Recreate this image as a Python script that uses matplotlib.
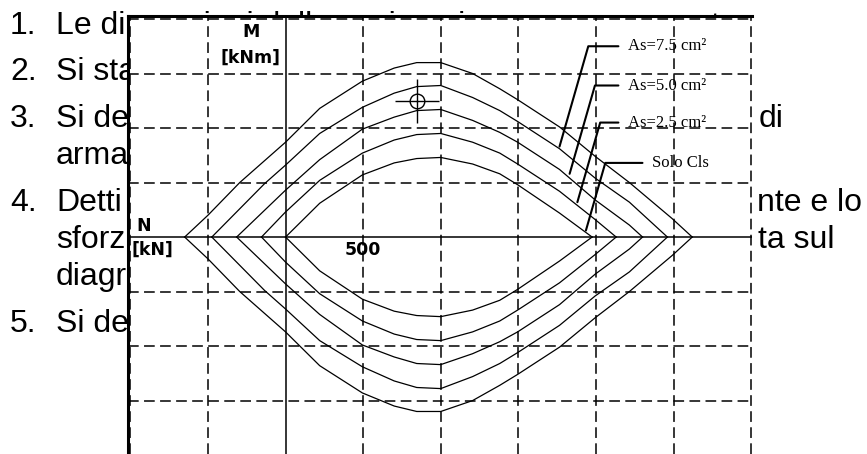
import matplotlib
matplotlib.use("Agg")
import matplotlib.pyplot as plt

# ---------------- data ----------------
# grid positions (N in kN, M in kNm)
N_grid = [-1000, -500, 500, 1000, 1500, 2000, 2500, 3000]
M_grid = [-150, -100, -50, 50, 100, 150, 200]

# interaction domains, upper and lower branches
N_c1 = [-650, -500, -295, 0, 220, 495, 700, 845, 1000, 1205, 1380, 1495, 1765, 1995, 2215, 2490, 2620]
M_c1_up = [0, 20, 50, 87, 118, 143, 155, 160, 160, 150, 136, 126, 101, 74, 50, 17, 0]
M_c1_lo = [0, -20, -50, -87, -118, -143, -155, -160, -160, -150, -136, -126, -101, -74, -50, -17, 0]

N_c2 = [-475, -135, 0, 220, 495, 700, 845, 1000, 1205, 1380, 1495, 1765, 1995, 2215, 2460]
M_c2_up = [0, 49, 66, 95, 119, 132, 138, 139, 128, 116, 106, 81, 54, 32, 0]
M_c2_lo = [0, -49, -66, -95, -119, -132, -138, -139, -128, -116, -106, -81, -54, -32, 0]

N_c3 = [-315, 0, 220, 495, 700, 845, 1000, 1205, 1380, 1495, 1765, 1995, 2215, 2300]
M_c3_up = [0, 43, 71, 99, 110, 116, 117, 107, 96, 87, 62, 34, 11, 0]
M_c3_lo = [0, -43, -71, -99, -110, -116, -117, -107, -96, -87, -62, -34, -11, 0]

N_c4 = [-155, 0, 220, 495, 700, 845, 1000, 1205, 1380, 1495, 1765, 1995, 2130]
M_c4_up = [0, 23, 52, 77, 89, 94, 95, 87, 77, 67, 42, 16, 0]
M_c4_lo = [0, -23, -52, -77, -89, -94, -95, -87, -77, -67, -42, -16, 0]

N_c5 = [0, 220, 495, 700, 845, 1000, 1205, 1380, 1495, 1765, 1975]
M_c5_up = [0, 31, 57, 68, 72, 73, 67, 58, 48, 22, 0]
M_c5_lo = [0, -31, -57, -68, -72, -73, -67, -58, -48, -22, 0]

# labelled curves (leader anchors on curves 2..5)
curve_labels = ["As=7.5 cm\u00b2", "As=5.0 cm\u00b2", "As=2.5 cm\u00b2", "Solo Cls"]
anchor_N = [1765, 1830, 1880, 1935]
anchor_M = [83, 58, 32, 6]
label_N = [2207, 2207, 2207, 2362]
label_M = [175, 139, 105, 68]

# design point (crosshair)
point_N = [850]
point_M = [125]

# slide text (visible parts; the chart covers the rest)
slide_nums = ["1.", "2.", "3.", "", "4.", "", "", "5."]
slide_text = ["Le dimensioni della sezione in esame sono note",
              "Si sta", "Si de", "arma", "Detti", "sforz", "diagr", "Si de"]
slide_base = [34, 80, 127, 164, 211, 248, 285, 332]
right_text = ["di", "nte e lo", "ta sul"]
right_x = [759, 757, 758]
right_base = [127, 211, 248]

# ---------------- figure ----------------
W, H = 867, 454
fig = plt.figure(figsize=(W / 100, H / 100), dpi=100)

bg = fig.add_axes([0, 0, 1, 1], zorder=0)
bg.set_xlim(0, W)
bg.set_ylim(H, 0)
bg.axis("off")
tf = dict(family="Liberation Sans", fontsize=23, color="black", va="baseline")
for num, txt, yb in zip(slide_nums, slide_text, slide_base):
    if num:
        bg.text(10, yb, num, ha="left", **tf)
    bg.text(56, yb, txt, ha="left", **tf)
for txt, xx, yb in zip(right_text, right_x, right_base):
    bg.text(xx, yb, txt, ha="left", **tf)

top_px = 16
ax = fig.add_axes([128 / W, 0, 624 / W, (H - top_px) / H], zorder=2)
ax.set_facecolor("white")
ax.set_xlim(-1015, 3005)
ax.set_ylim(-199, 202.75)
ax.set_xticks(N_grid)
ax.set_yticks(M_grid)
ax.tick_params(length=0, labelbottom=False, labelleft=False)
ax.grid(True, color="black", lw=1.1, linestyle=(0, (7, 3.5)))
for s in ["right", "bottom"]:
    ax.spines[s].set_visible(False)
ax.spines["left"].set_linewidth(2.2)
ax.spines["top"].set_linewidth(2.2)

ax.axhline(0, color="black", lw=1.1, zorder=2)
ax.axvline(0, color="black", lw=1.1, zorder=2)

curves = [(N_c1, M_c1_up, M_c1_lo), (N_c2, M_c2_up, M_c2_lo), (N_c3, M_c3_up, M_c3_lo),
          (N_c4, M_c4_up, M_c4_lo), (N_c5, M_c5_up, M_c5_lo)]
for n, mu, ml in curves:
    ax.plot(n, mu, color="black", lw=0.9, zorder=3)
    ax.plot(n, ml, color="black", lw=0.9, zorder=3)

ax.plot(point_N, point_M, marker="o", ms=10.5, mfc="none", mec="black", mew=1.0, ls="none", zorder=4)
ax.plot(point_N, point_M, marker="+", ms=31, mec="black", mew=1.0, ls="none", zorder=4)

for lab, aN, aM, tN, tM in zip(curve_labels, anchor_N, anchor_M, label_N, label_M):
    ax.annotate(lab, xy=(aN, aM), xytext=(tN, tM), textcoords="data",
                ha="left", va="center", family="Liberation Serif", fontsize=12,
                arrowprops=dict(arrowstyle="-", lw=1.5, color="black",
                                connectionstyle="angle,angleA=0,angleB=74,rad=0",
                                shrinkA=5, shrinkB=0))

bold = dict(family="DejaVu Sans", fontweight="bold", fontsize=12.5, color="black")
ax.text(-225, 188, "M", ha="center", va="center", **bold)
ax.text(-225, 164, "[kNm]", ha="center", va="center", **bold)
ax.text(-914, 10, "N", ha="center", va="center", **bold)
ax.text(-856, -12, "[kN]", ha="center", va="center", **bold)
ax.text(500, -12, "500", ha="center", va="center", **bold)

fig.savefig("out.png", dpi=100)
